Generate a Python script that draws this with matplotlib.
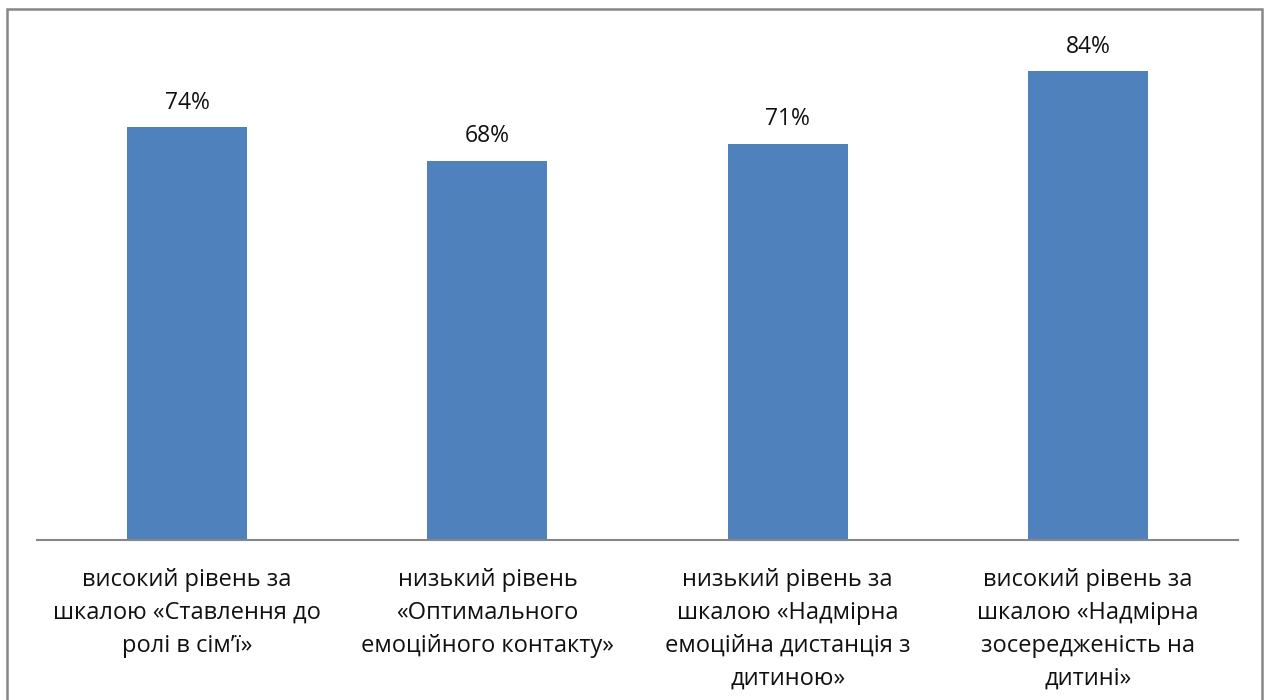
import matplotlib.pyplot as plt
from matplotlib.patches import Rectangle

plt.rcParams["font.family"] = ["Open Sans", "DejaVu Sans"]

categories = [
    "високий рівень за\nшкалою «Ставлення до\nролі в сім’ї»",
    "низький рівень\n«Оптимального\nемоційного контакту»",
    "низький рівень за\nшкалою «Надмірна\nемоційна дистанція з\nдитиною»",
    "високий рівень за\nшкалою «Надмірна\nзосередженість на\nдитині»",
]
values = [74, 68, 71, 84]
value_labels = ["74%", "68%", "71%", "84%"]

W, H = 1268, 700
fig = plt.figure(figsize=(W / 100, H / 100), dpi=100)
ax = fig.add_axes([37 / W, 1 - 540 / H, (1238 - 37) / W, (540 - 38) / H])

x = range(len(values))
bars = ax.bar(x, values, width=0.4, color="#4F81BD", zorder=2)
for b, lab in zip(bars, value_labels):
    ax.annotate(lab, (b.get_x() + b.get_width() / 2, b.get_height()),
                xytext=(0, 9), textcoords="offset points",
                ha="center", va="bottom", fontsize=16.5, color="#111111")

ax.set_xlim(-0.5, len(values) - 0.5)
ax.set_ylim(0, 90)
ax.set_xticks(list(x))
ax.set_xticklabels(categories, fontsize=17, color="#111111", linespacing=1.5)
ax.tick_params(axis="x", length=0, pad=20)
ax.set_yticks([])
for s in ["top", "right", "left"]:
    ax.spines[s].set_visible(False)
ax.spines["bottom"].set_color("#868686")
ax.spines["bottom"].set_linewidth(1.5)

# outer chart border
fig.patches.append(Rectangle((7 / W, -0.05), (1262 - 7) / W, 1.05 - 9 / H,
                             transform=fig.transFigure, fill=False,
                             edgecolor="#878787", linewidth=1.8))

fig.savefig("out.png", dpi=100)
